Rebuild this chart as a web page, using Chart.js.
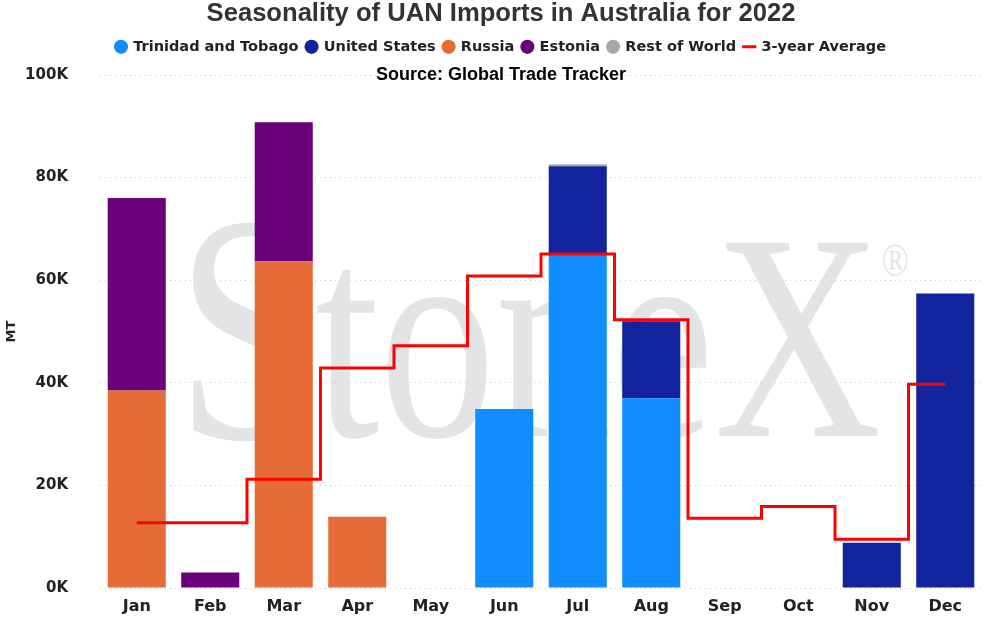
<!DOCTYPE html>
<html>
<head>
<meta charset="utf-8">
<script src="https://cdn.jsdelivr.net/npm/chart.js@4.4.1/dist/chart.umd.min.js"></script>
<style>
  html, body { margin: 0; padding: 0; background: #ffffff; }
  #wrap { width: 991px; height: 624px; position: relative; }
</style>
</head>
<body>
<div id="wrap"><canvas id="c" width="991" height="624"></canvas></div>
<script>
const months = ['Jan','Feb','Mar','Apr','May','Jun','Jul','Aug','Sep','Oct','Nov','Dec'];
const trinidadTobago = [null, null, null, null, null, 34900, 64900, 37000, null, null, null, null];
const unitedStates   = [null, null, null, null, null, null, 17300, 15000, null, null, 8800, 57400];
const russia         = [38500, null, 63700, 13900, null, null, null, null, null, null, null, null];
const estonia        = [37500, 3000, 27100, null, null, null, null, null, null, null, null, null];
const restOfWorld    = [null, null, null, null, null, null, 400, null, null, null, null, null];
const threeYearAvg   = [12700, 12700, 21200, 42900, 47200, 60800, 65100, 52300, 13600, 15900, 9500, 39700];
const yTicks = [0, 20000, 40000, 60000, 80000, 100000];

const FONT = "'DejaVu Sans', 'Noto Sans', sans-serif";

const watermark = {
  id: 'watermark',
  beforeDatasetsDraw(chart) {
    const ctx = chart.ctx;
    ctx.save();
    ctx.fillStyle = '#e3e4e6';
    ctx.textBaseline = 'alphabetic';
    ctx.translate(186, 436);
    ctx.scale(0.786, 1);
    ctx.font = "295px 'Liberation Serif', serif";
    const wS = ctx.measureText('S').width;
    ctx.textAlign = 'left';
    ctx.fillText('toneX', wS, 0);
    ctx.textAlign = 'right';
    ctx.font = "325px 'Liberation Serif', serif";
    ctx.fillText('S', wS + 4, 2);
    ctx.textAlign = 'left';
    ctx.font = "46px 'Liberation Serif', serif";
    ctx.fillText('®', 885, -160);
    ctx.restore();
  }
};

const sourceText = {
  id: 'sourceText',
  afterDraw(chart) {
    const ctx = chart.ctx;
    ctx.save();
    ctx.fillStyle = '#000000';
    ctx.font = "bold 18px 'Liberation Sans', Arial, sans-serif";
    ctx.textAlign = 'center';
    ctx.textBaseline = 'middle';
    ctx.fillText('Source: Global Trade Tracker', 501, 75);
    ctx.restore();
  }
};

const spacer = {
  id: 'spacer',
  beforeInit(chart) {
    const box = {
      position: 'top', weight: 1, fullSize: true, options: {},
      width: 0, height: 0, top: 0, left: 0, right: 0, bottom: 0,
      isHorizontal() { return true; },
      update(maxWidth) { this.width = maxWidth; this.height = 10.9; },
      draw() {}
    };
    Chart.layouts.addBox(chart, box);
  }
};

const barDs = (label, data, color) => ({
  type: 'bar', label, data, backgroundColor: color, borderWidth: 0,
  stack: 's', order: 0, pointStyle: 'circle',
  barPercentage: 0.79, categoryPercentage: 1.0
});

new Chart(document.getElementById('c'), {
  data: {
    labels: months,
    datasets: [
      barDs('Trinidad and Tobago', trinidadTobago, '#118DFF'),
      barDs('United States', unitedStates, '#12239E'),
      barDs('Russia', russia, '#E66C37'),
      barDs('Estonia', estonia, '#6B007B'),
      barDs('Rest of World', restOfWorld, '#A8A8A8'),
      {
        type: 'line', label: '3-year Average', data: threeYearAvg,
        borderColor: '#FF0000', backgroundColor: '#FF0000', borderWidth: 3,
        stepped: 'middle', pointRadius: 0, pointStyle: 'line', order: -1, fill: false
      }
    ]
  },
  options: {
    responsive: false,
    animation: false,
    devicePixelRatio: 1,
    layout: { padding: { left: 20, right: 9, top: 0, bottom: 0 } },
    plugins: {
      title: {
        display: true,
        text: 'Seasonality of UAN Imports in Australia for 2022',
        color: '#333333',
        font: { family: "'Liberation Sans', Arial, sans-serif", size: 25.6, weight: 'bold', lineHeight: 1.0 },
        padding: { top: 1, bottom: 5 }
      },
      legend: {
        display: true,
        position: 'top',
        labels: {
          usePointStyle: true,
          boxWidth: 10, boxHeight: 10,
          padding: 8,
          color: '#222222',
          font: { family: FONT, size: 14.5, weight: 'bold' },
          sort: (a, b) => a.datasetIndex - b.datasetIndex
        }
      },
      tooltip: { enabled: false }
    },
    scales: {
      x: {
        stacked: true,
        grid: { display: false },
        border: { display: false },
        ticks: { color: '#222222', font: { family: FONT, size: 16, weight: 'bold' }, padding: 1 },
        afterFit(s) { s.height = 36; }
      },
      y: {
        stacked: true,
        min: 0, max: 100000,
        afterBuildTicks(s) { s.ticks = yTicks.map(v => ({ value: v })); },
        grid: { color: '#cccccc', lineWidth: 1, drawTicks: true, tickLength: 28, tickColor: 'rgba(0,0,0,0)' },
        border: { display: false, dash: [1, 4] },
        ticks: {
          color: '#222222', padding: 4,
          font: { family: FONT, size: 15, weight: 'bold' },
          callback: v => (v / 1000) + 'K'
        },
        title: { display: true, text: 'MT', color: '#222222', font: { family: FONT, size: 13, weight: 'bold' }, padding: { top: -16, bottom: 0 } },
        afterFit(s) { s.width = 80; }
      }
    }
  },
  plugins: [spacer, watermark, sourceText]
});
</script>
</body>
</html>
